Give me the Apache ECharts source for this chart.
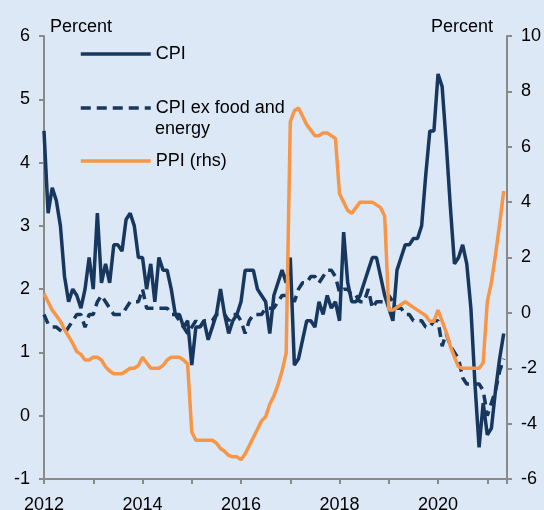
<!DOCTYPE html>
<html>
<head>
<meta charset="utf-8">
<script src="https://cdn.jsdelivr.net/npm/echarts@6/dist/echarts.min.js"></script>
<style>
  html, body { margin: 0; padding: 0; background: #dce8f6; }
  #chart { width: 544px; height: 510px; }
</style>
</head>
<body>
<div id="chart"></div>
<script>
// monthly data, Jan 2012 - May 2021
var startYear = 2012;

// CPI, percent (lhs)
var cpi = [
  4.5, 3.2, 3.6, 3.4, 3.0, 2.2, 1.8, 2.0, 1.9, 1.7, 2.0, 2.5,   // 2012
  2.0, 3.2, 2.1, 2.4, 2.1, 2.7, 2.7, 2.6, 3.1, 3.2, 3.0, 2.5,   // 2013
  2.5, 2.0, 2.4, 1.8, 2.5, 2.3, 2.3, 2.0, 1.6, 1.6, 1.4, 1.5,   // 2014
  0.8, 1.4, 1.4, 1.5, 1.2, 1.4, 1.6, 2.0, 1.6, 1.3, 1.5, 1.6,   // 2015
  1.8, 2.3, 2.3, 2.3, 2.0, 1.9, 1.8, 1.3, 1.9, 2.1, 2.3, 2.1,   // 2016
  2.5, 0.8, 0.9, 1.2, 1.5, 1.5, 1.4, 1.8, 1.6, 1.9, 1.7, 1.8,   // 2017
  1.5, 2.9, 2.1, 1.8, 1.8, 1.9, 2.1, 2.3, 2.5, 2.5, 2.2, 1.9,   // 2018
  1.7, 1.5, 2.3, 2.5, 2.7, 2.7, 2.8, 2.8, 3.0, 3.8, 4.5, 4.5,   // 2019
  5.4, 5.2, 4.3, 3.3, 2.4, 2.5, 2.7, 2.4, 1.7, 0.5, -0.5, 0.2,  // 2020
  -0.3, -0.2, 0.4, 0.9, 1.3                                     // 2021
];

// CPI ex food and energy, percent (lhs)
var coreCpi = [
  1.6, 1.45, 1.4, 1.4, 1.35, 1.3, 1.4, 1.5, 1.6, 1.6, 1.4, 1.6, // 2012
  1.6, 1.8, 1.9, 1.8, 1.7, 1.6, 1.6, 1.6, 1.7, 1.8, 1.8, 1.8,   // 2013
  2.0, 1.7, 1.7, 1.7, 1.7, 1.7, 1.7, 1.6, 1.6, 1.5, 1.4, 1.3,   // 2014
  1.4, 1.5, 1.4, 1.5, 1.5, 1.5, 1.6, 1.6, 1.6, 1.5, 1.6, 1.6,   // 2015
  1.5, 1.3, 1.5, 1.6, 1.6, 1.6, 1.7, 1.7, 1.7, 1.8, 1.9, 1.9,   // 2016
  1.9, 1.8, 2.0, 2.1, 2.1, 2.2, 2.2, 2.1, 2.2, 2.3, 2.3, 2.2,   // 2017
  1.95, 2.0, 2.0, 1.9, 1.9, 1.8, 1.8, 2.0, 1.7, 1.8, 1.8, 1.8,  // 2018
  1.9, 1.8, 1.7, 1.7, 1.6, 1.6, 1.5, 1.5, 1.5, 1.4, 1.4, 1.5,   // 2019
  1.5, 1.1, 1.3, 1.1, 1.0, 0.9, 0.6, 0.5, 0.5, 0.5, 0.5, 0.4,   // 2020
  0.0, 0.2, 0.4, 0.7, 0.9                                       // 2021
];

// PPI, percent (rhs)
var ppi = [
  0.7, 0.4, 0.1, -0.1, -0.3, -0.6, -0.85, -1.1, -1.4, -1.5, -1.7, -1.7,  // 2012
  -1.6, -1.6, -1.7, -1.95, -2.1, -2.2, -2.2, -2.2, -2.1, -2.0, -2.0, -1.9, // 2013
  -1.6, -1.8, -2.0, -2.0, -2.0, -1.9, -1.7, -1.6, -1.6, -1.6, -1.7, -1.85, // 2014
  -4.3, -4.6, -4.6, -4.6, -4.6, -4.6, -4.7, -4.9, -5.0, -5.15, -5.2, -5.2, // 2015
  -5.3, -5.1, -4.8, -4.5, -4.2, -3.9, -3.75, -3.3, -3.0, -2.6, -2.1, -1.45, // 2016
  6.9, 7.3, 7.4, 7.1, 6.8, 6.6, 6.4, 6.4, 6.5, 6.5, 6.4, 6.3,            // 2017
  4.3, 4.0, 3.7, 3.6, 3.8, 4.0, 4.0, 4.0, 4.0, 3.9, 3.8, 3.5,            // 2018
  0.1, 0.1, 0.2, 0.3, 0.4, 0.3, 0.2, 0.1, 0.0, -0.1, -0.3, -0.3,         // 2019
  0.1, -0.3, -0.7, -1.2, -1.6, -1.95, -2.0, -2.0, -2.0, -2.0, -2.0, -1.8, // 2020
  0.4, 1.1, 2.1, 3.2, 4.4                                               // 2021
];

var leftTicks = { min: -1, max: 6, step: 1 };
var rightTicks = { min: -6, max: 10, step: 2 };

var navy = '#17375e';
var orange = '#f79646';
var axisGrey = '#8a8a8a';
var font = 'Liberation Sans, Arial, sans-serif';
var fs = 18;

// x = year + month/12
function pairs(arr) {
  return arr.map(function (v, i) { return [startYear + i / 12, v]; });
}

function yAxisStyle(ticks, pos) {
  return {
    type: 'value',
    position: pos,
    min: ticks.min,
    max: ticks.max,
    interval: ticks.step,
    name: 'Percent',
    nameLocation: 'end',
    nameGap: 0,
    nameTextStyle: {
      color: '#000',
      fontSize: fs,
      fontFamily: font,
      align: pos === 'left' ? 'left' : 'right',
      padding: pos === 'left' ? [0, 0, 0, 6] : [0, 14, 0, 0]
    },
    axisLine: { show: true, lineStyle: { color: axisGrey, width: 2 } },
    axisTick: { show: true, inside: false, length: 5, lineStyle: { color: axisGrey, width: 2 } },
    axisLabel: { color: '#000', fontSize: fs, fontFamily: font, margin: 14 },
    splitLine: { show: false }
  };
}

var legendBase = {
  orient: 'vertical',
  left: 79,
  padding: 0,
  itemWidth: 70,
  itemHeight: 14,
  itemStyle: { opacity: 0 },
  lineStyle: { width: 3.5 },
  textStyle: { color: '#000', fontSize: fs, fontFamily: font }
};

var option = {
  backgroundColor: '#dce8f6',
  animation: false,
  grid: { left: 44, right: 37, top: 36, bottom: 31, outerBoundsMode: 'none', containLabel: false },
  legend: [
    Object.assign({}, legendBase, { top: 45, data: ['CPI'] }),
    Object.assign({}, legendBase, {
      top: 99,
      data: ['CPI ex food and energy'],
      formatter: function () { return 'CPI ex food and'; }
    }),
    Object.assign({}, legendBase, { top: 152, data: ['PPI (rhs)'] })
  ],
  graphic: [{
    type: 'text',
    left: 155,
    top: 120,
    style: { text: 'energy', fill: '#000', font: fs + 'px ' + font }
  }],
  xAxis: {
    type: 'value',
    min: startYear,
    max: 2021.4,
    interval: 1,
    axisLine: { show: true, onZero: false, lineStyle: { color: axisGrey, width: 2 } },
    axisTick: { show: true, inside: false, length: 5, lineStyle: { color: axisGrey, width: 2 } },
    axisLabel: {
      color: '#000', fontSize: fs, fontFamily: font, margin: 17,
      formatter: function (v) { return (v % 2 === 0) ? String(v) : ''; }
    },
    splitLine: { show: false }
  },
  yAxis: [yAxisStyle(leftTicks, 'left'), yAxisStyle(rightTicks, 'right')],
  series: [
    {
      name: 'CPI', type: 'line', yAxisIndex: 0, symbol: 'none', z: 3,
      lineStyle: { color: navy, width: 3.5 }, itemStyle: { color: navy },
      data: pairs(cpi)
    },
    {
      name: 'CPI ex food and energy', type: 'line', yAxisIndex: 0, symbol: 'none', z: 2,
      lineStyle: { color: navy, width: 3.5, type: [10, 6] }, itemStyle: { color: navy },
      data: pairs(coreCpi)
    },
    {
      name: 'PPI (rhs)', type: 'line', yAxisIndex: 1, symbol: 'none', z: 4,
      lineStyle: { color: orange, width: 3.5 }, itemStyle: { color: orange },
      data: pairs(ppi)
    }
  ]
};

var myChart = echarts.init(document.getElementById('chart'));
myChart.setOption(option);
</script>
</body>
</html>
